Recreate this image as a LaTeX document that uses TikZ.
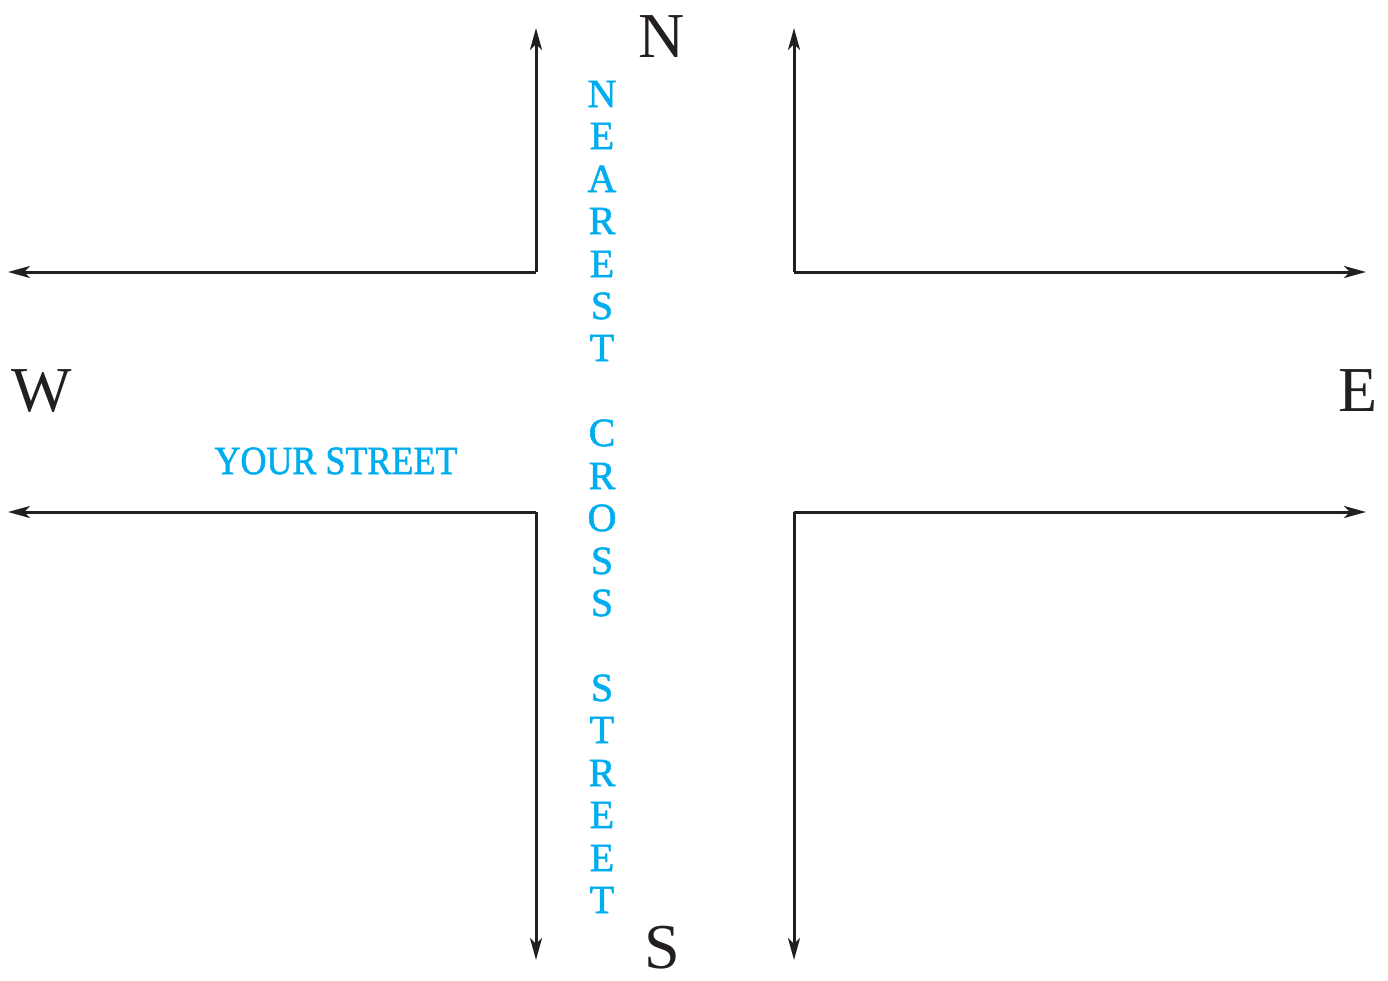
\documentclass[tikz,border=0pt]{standalone}
\usepackage{fontspec}
\setmainfont{Liberation Serif}
\usetikzlibrary{arrows.meta}
\definecolor{ink}{HTML}{231F20}
\definecolor{cyanb}{HTML}{00AEEF}
\begin{document}
\begin{tikzpicture}[x=1pt,y=-1pt,
  road/.style={draw=ink,line width=3pt,-{Stealth[length=22pt,width=12pt,inset=6pt]}},
  compass/.style={text=ink,font=\fontsize{64}{64}\selectfont,inner sep=0pt,anchor=base},
  blue/.style={text=cyanb,font=\fontsize{40}{40}\selectfont\addfontfeature{FakeBold=1.5},inner sep=0pt,anchor=base}]
\useasboundingbox (0,0) rectangle (1388,980);
% corners
\coordinate (tl) at (536,272);
\coordinate (tr) at (794,272);
\coordinate (bl) at (536,512);
\coordinate (br) at (794,512);
% arrow ends
\coordinate (tlN) at (536,28);
\coordinate (tlW) at (8,272);
\coordinate (trN) at (794,28);
\coordinate (trE) at (1366,272);
\coordinate (blW) at (8,512);
\coordinate (blS) at (536,960);
\coordinate (brE) at (1366,512);
\coordinate (brS) at (794,960);
\draw[road] (tl) -- (tlN);
\draw[road] (tl) -- (tlW);
\draw[road] (tr) -- (trN);
\draw[road] (tr) -- (trE);
\draw[road] (bl) -- (blW);
\draw[road] (bl) -- (blS);
\draw[road] (br) -- (brE);
\draw[road] (br) -- (brS);
% compass
\node[compass] (n) at (662,57) {N};
\node[compass] (s) at (662,968) {S};
\node[compass] (w) at (42,411) {W};
\node[compass] (e) at (1358,411) {E};
% your street
\node[blue,xscale=0.9] (ys) at (336,474) {YOUR STREET};
% nearest cross street
\foreach \l/\y [count=\i] in {N/107,E/149,A/192,R/234,E/277,S/319,T/361,
  C/446,R/489,O/531,S/574,S/616,
  S/701,T/743,R/786,E/828,E/871,T/913}
  \node[blue] (c\i) at (602,\y) {\l};
\end{tikzpicture}
\end{document}
